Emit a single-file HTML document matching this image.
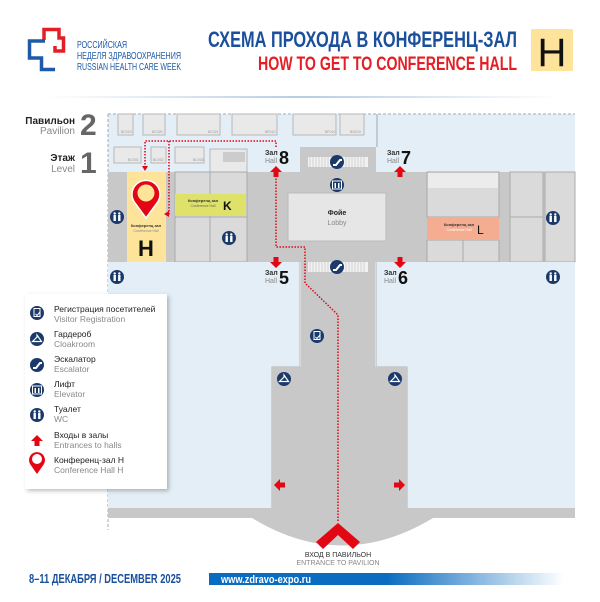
<!DOCTYPE html>
<html><head><meta charset="utf-8"><style>
html,body{margin:0;padding:0;background:#fff;}
svg{display:block;}
text{font-family:"Liberation Sans",sans-serif;}
.n{font-family:"Liberation Sans Narrow","Liberation Sans",sans-serif;}
</style></head><body>
<svg width="600" height="602" viewBox="0 0 600 602" xmlns="http://www.w3.org/2000/svg">
<defs>
<linearGradient id="hl" x1="0" x2="1"><stop offset="0" stop-color="#fff"/><stop offset="0.5" stop-color="#b8cde3"/><stop offset="1" stop-color="#fff"/></linearGradient>
<linearGradient id="wb" x1="0" x2="1"><stop offset="0" stop-color="#0a6cc0"/><stop offset="0.5" stop-color="#0a6cc0"/><stop offset="1" stop-color="#fff"/></linearGradient>
<filter id="sh" x="-10%" y="-10%" width="130%" height="130%"><feDropShadow dx="2" dy="2" stdDeviation="2" flood-color="#000" flood-opacity="0.25"/></filter>
<g id="wc"><circle r="7" fill="#1b3a6b"/><circle cx="-2.3" cy="-3.5" r="1.2" fill="#fff"/><circle cx="2.3" cy="-3.5" r="1.2" fill="#fff"/><rect x="-3.5" y="-2" width="2.4" height="6" fill="#fff"/><rect x="1.1" y="-2" width="2.4" height="6" fill="#fff"/></g>
<g id="esc"><circle r="7" fill="#1b3a6b"/><path d="M-4 3 L-1 3 L3 -2 L5 -2" stroke="#fff" stroke-width="2" fill="none"/></g>
<g id="lift"><circle r="7" fill="#1b3a6b"/><rect x="-4.5" y="-4" width="9" height="8" fill="none" stroke="#fff" stroke-width="1"/><rect x="-2.5" y="-2" width="1.5" height="5" fill="#fff"/><rect x="1" y="-2" width="1.5" height="5" fill="#fff"/></g>
<g id="cloak"><circle r="7" fill="#1b3a6b"/><path d="M0 -4 L0 -2 L-4.5 2.5 L4.5 2.5 Z" fill="none" stroke="#fff" stroke-width="1.2"/></g>
<g id="reg"><circle r="7" fill="#1b3a6b"/><rect x="-3" y="-4.5" width="6" height="8" fill="none" stroke="#fff" stroke-width="1"/><path d="M-1.5 1 L0 2.5 L3 -1" stroke="#fff" stroke-width="1" fill="none"/></g>
<path id="up" d="M0 -6 L6 0 L2.5 0 L2.5 5 L-2.5 5 L-2.5 0 L-6 0 Z" fill="#e30613"/>
</defs>

<!-- header -->
<path d="M44 40 V29.5 H59 V38 H63.5 V51 H55 V46" fill="none" stroke="#e31e24" stroke-width="3.5"/>
<path d="M45 41 H29.5 V58 H41.5 V69.5 H55" fill="none" stroke="#1d5aa8" stroke-width="3.5"/>
<text class="n" x="77" y="48" font-size="10.5" fill="#1d5aa8" textLength="50" lengthAdjust="spacingAndGlyphs">РОССИЙСКАЯ</text>
<text class="n" x="77" y="59" font-size="10.5" fill="#1d5aa8" textLength="104" lengthAdjust="spacingAndGlyphs">НЕДЕЛЯ ЗДРАВООХРАНЕНИЯ</text>
<text class="n" x="77" y="70" font-size="10.5" fill="#1d5aa8" textLength="104" lengthAdjust="spacingAndGlyphs">RUSSIAN HEALTH CARE WEEK</text>
<text class="n" x="208" y="47" font-size="22" font-weight="bold" fill="#1a4f9c" textLength="309" lengthAdjust="spacingAndGlyphs">СХЕМА ПРОХОДА В КОНФЕРЕНЦ-ЗАЛ</text>
<text class="n" x="258" y="70" font-size="19" font-weight="bold" fill="#e31e24" textLength="259" lengthAdjust="spacingAndGlyphs">HOW TO GET TO CONFERENCE HALL</text>
<rect x="531" y="29" width="42" height="42" fill="#fde49a"/>
<text x="552" y="66" font-size="40" text-anchor="middle" fill="#111">H</text>
<rect x="45" y="96" width="515" height="2" fill="url(#hl)"/>

<text x="75" y="124" font-size="10" font-weight="bold" text-anchor="end" fill="#222">Павильон</text>
<text x="75" y="134" font-size="10" text-anchor="end" fill="#888">Pavilion</text>
<text x="80" y="135" font-size="30" font-weight="bold" fill="#666">2</text>
<text x="75" y="161" font-size="10" font-weight="bold" text-anchor="end" fill="#222">Этаж</text>
<text x="75" y="172" font-size="10" text-anchor="end" fill="#888">Level</text>
<text x="80" y="173" font-size="30" font-weight="bold" fill="#666">1</text>

<!-- map -->
<rect x="108" y="114" width="467" height="58" fill="#e3eef6"/>
<line x1="108" y1="114" x2="575" y2="114" stroke="#aaa" stroke-dasharray="3,2"/>
<line x1="108" y1="114" x2="108" y2="530" stroke="#aaa" stroke-dasharray="3,2"/>
<line x1="377" y1="114" x2="377" y2="147" stroke="#b4c0ca" stroke-width="1.5"/>
<g fill="#e9e9e9" stroke="#b8b8b8" stroke-width="1">
<rect x="118" y="114" width="15" height="21"/><rect x="143" y="114" width="22" height="21"/><rect x="177" y="114" width="43" height="21"/><rect x="232" y="114" width="45" height="21"/><rect x="293" y="114" width="43" height="21"/><rect x="340" y="114" width="24" height="21"/>
<rect x="114" y="147" width="27" height="16"/><rect x="151" y="147" width="15" height="16"/><rect x="175" y="147" width="29" height="16"/>
<rect x="210" y="149" width="37" height="23"/>
</g>
<g fill="#999" font-size="3.5"><text x="121" y="133">ВС019</text><text x="152" y="133">ВС020</text><text x="208" y="133">ВС021</text><text x="265" y="133">ВЕ010</text><text x="325" y="133">ВF010</text><text x="350" y="133">ВG010</text><text x="128" y="161">ВС001</text><text x="153" y="161">ВС002</text><text x="193" y="161">ВС003</text></g>
<rect x="223" y="152" width="22" height="10" fill="#ccc"/>
<rect x="108" y="172" width="467" height="90" fill="#c8c8c8"/>
<rect x="300" y="147" width="76" height="25" fill="#c8c8c8"/>
<rect x="127" y="172" width="39" height="90" fill="#fde49a"/>
<g fill="#dadada" stroke="#aaa" stroke-width="1"><rect x="175" y="172" width="35" height="45"/><rect x="210" y="172" width="37" height="45"/><rect x="175" y="217" width="35" height="45"/><rect x="210" y="217" width="37" height="45"/></g>
<rect x="175" y="194" width="71" height="22" fill="#dfe26a"/>
<text x="203" y="202" font-size="4" font-weight="bold" text-anchor="middle" fill="#333">Конференц зал</text>
<text x="203" y="207" font-size="3.5" text-anchor="middle" fill="#666">Conference Hall</text>
<text x="223" y="210" font-size="12" font-weight="bold" fill="#111">K</text>
<rect x="288" y="193" width="98" height="48" fill="#e6e6e6" stroke="#bbb"/>
<text x="337" y="215" font-size="7" font-weight="bold" text-anchor="middle" fill="#222">Фойе</text>
<text x="337" y="225" font-size="7" text-anchor="middle" fill="#888">Lobby</text>
<g fill="#dadada" stroke="#aaa" stroke-width="1"><rect x="427" y="172" width="72" height="45"/><rect x="427" y="240" width="36" height="22"/><rect x="463" y="240" width="36" height="22"/><rect x="510" y="172" width="33" height="45"/><rect x="510" y="217" width="33" height="45"/><rect x="545" y="172" width="30" height="90"/></g>
<rect x="428" y="173" width="70" height="15" fill="#ececec"/>
<rect x="427" y="217" width="72" height="23" fill="#f4ad90"/>
<text x="459" y="226" font-size="4" font-weight="bold" text-anchor="middle" fill="#333">Конференц зал</text>
<text x="459" y="231" font-size="3.5" text-anchor="middle" fill="#fff">Conference Hall</text>
<text x="477" y="234" font-size="12" fill="#111">L</text>
<rect x="108" y="262" width="192" height="246" fill="#e3eef6"/>
<rect x="376" y="262" width="199" height="246" fill="#e3eef6"/>
<path d="M300 262 V367 H272 V508 M376 262 V367 H407 V508" fill="none" stroke="#b4b4b4" stroke-width="1"/>
<rect x="301" y="262" width="74" height="106" fill="#c8c8c8"/>
<rect x="272" y="367" width="135" height="142" fill="#c8c8c8"/>
<rect x="108" y="508" width="467" height="10" fill="#c8c8c8"/>
<path d="M252 518 Q342 573 433 518 Z" fill="#c8c8c8"/>
<g fill="#f2f2f2"><rect x="308" y="157" width="60" height="10"/><rect x="308" y="262" width="60" height="10"/></g>
<g stroke="#bbb" stroke-width="0.6"><path d="M310 157 V167 M313 157 V167 M316 157 V167 M319 157 V167 M322 157 V167 M325 157 V167 M328 157 V167 M346 157 V167 M349 157 V167 M352 157 V167 M355 157 V167 M358 157 V167 M361 157 V167 M364 157 V167"/><path d="M310 262 V272 M313 262 V272 M316 262 V272 M319 262 V272 M322 262 V272 M325 262 V272 M328 262 V272 M346 262 V272 M349 262 V272 M352 262 V272 M355 262 V272 M358 262 V272 M361 262 V272 M364 262 V272"/></g>
<use href="#esc" x="337" y="162"/><use href="#esc" x="337" y="267"/>
<use href="#lift" x="337" y="185"/>
<use href="#wc" x="117" y="217"/><use href="#wc" x="229" y="238"/><use href="#wc" x="553" y="218"/><use href="#wc" x="117" y="277"/><use href="#wc" x="553" y="277"/>
<use href="#reg" x="317" y="336"/>
<use href="#cloak" x="284" y="379"/><use href="#cloak" x="395" y="379"/>
<g font-weight="bold">
<text x="265" y="155" font-size="7" fill="#333">Зал</text><text x="265" y="163" font-size="7" font-weight="normal" fill="#888">Hall</text><text x="279" y="164" font-size="18" fill="#111">8</text>
<text x="387" y="155" font-size="7" fill="#333">Зал</text><text x="387" y="163" font-size="7" font-weight="normal" fill="#888">Hall</text><text x="401" y="164" font-size="18" fill="#111">7</text>
<text x="265" y="275" font-size="7" fill="#333">Зал</text><text x="265" y="283" font-size="7" font-weight="normal" fill="#888">Hall</text><text x="279" y="284" font-size="18" fill="#111">5</text>
<text x="384" y="275" font-size="7" fill="#333">Зал</text><text x="384" y="283" font-size="7" font-weight="normal" fill="#888">Hall</text><text x="398" y="284" font-size="18" fill="#111">6</text>
</g>
<path d="M338 521 V315 L305 283 V247 H276 V176" fill="none" stroke="#e30613" stroke-width="1.5" stroke-dasharray="1.5,1.5"/>
<path d="M276 147 V141 H145 V166 M169 141 V214 H170" fill="none" stroke="#e30613" stroke-width="1.5" stroke-dasharray="1.5,1.5"/>
<path d="M142 166 L148 166 L145 171 Z M169 211 L169 217 L164 214 Z" fill="#e30613"/>
<use href="#up" x="276" y="172"/><use href="#up" x="400" y="172"/>
<use href="#up" transform="translate(276 262) rotate(180)"/><use href="#up" transform="translate(400 262) rotate(180)"/>
<use href="#up" transform="translate(280 485) rotate(-90)"/><use href="#up" transform="translate(399 485) rotate(90)"/>
<!-- pin -->
<path d="M146 218 L135 203 A14 14 0 1 1 157 203 Z" fill="#e30613" stroke="#fff" stroke-width="1.5"/>
<circle cx="146" cy="193" r="8.5" fill="#fde49a"/>
<text x="146" y="227" font-size="4" font-weight="bold" text-anchor="middle" fill="#333">Конференц зал</text>
<text x="146" y="232" font-size="3.5" text-anchor="middle" fill="#888">Conference Hall</text>
<text x="146" y="256" font-size="22" font-weight="bold" text-anchor="middle" fill="#111">H</text>
<path d="M338 523 L360 542 L353 549 L338 535 L323 549 L316 542 Z" fill="#e30613"/>
<text x="338" y="557" font-size="7" text-anchor="middle" fill="#333">ВХОД В ПАВИЛЬОН</text>
<text x="338" y="565" font-size="7" text-anchor="middle" fill="#888">ENTRANCE TO PAVILION</text>
<!-- legend -->
<rect x="25" y="294" width="142" height="195" fill="#fff" filter="url(#sh)"/>
<use href="#reg" x="37" y="313"/><use href="#cloak" x="37" y="339"/><use href="#esc" x="37" y="365"/><use href="#lift" x="37" y="390"/><use href="#wc" x="37" y="415"/>
<use href="#up" x="37" y="441"/>
<path d="M37 474 L30 464 A8 8 0 1 1 44 464 Z" fill="#e30613"/><circle cx="37" cy="459" r="5" fill="#fff"/>
<g font-size="8.5" fill="#222">
<text x="54" y="312">Регистрация посетителей</text><text x="54" y="337">Гардероб</text><text x="54" y="362">Эскалатор</text><text x="54" y="387">Лифт</text><text x="54" y="412">Туалет</text><text x="54" y="438">Входы в залы</text><text x="54" y="463">Конференц-зал H</text>
</g>
<g font-size="8.5" fill="#888">
<text x="54" y="322">Visitor Registration</text><text x="54" y="347">Cloakroom</text><text x="54" y="372">Escalator</text><text x="54" y="397">Elevator</text><text x="54" y="422">WC</text><text x="54" y="448">Entrances to halls</text><text x="54" y="473">Conference Hall H</text>
</g>
<text class="n" x="29" y="583" font-size="13" font-weight="bold" fill="#1a4f9c" textLength="152" lengthAdjust="spacingAndGlyphs">8–11 ДЕКАБРЯ / DECEMBER 2025</text>
<rect x="209" y="573" width="355" height="12" fill="url(#wb)"/>
<text class="n" x="221" y="583" font-size="11" font-weight="bold" fill="#fff" textLength="90" lengthAdjust="spacingAndGlyphs">www.zdravo-expo.ru</text>
</svg>
</body></html>
